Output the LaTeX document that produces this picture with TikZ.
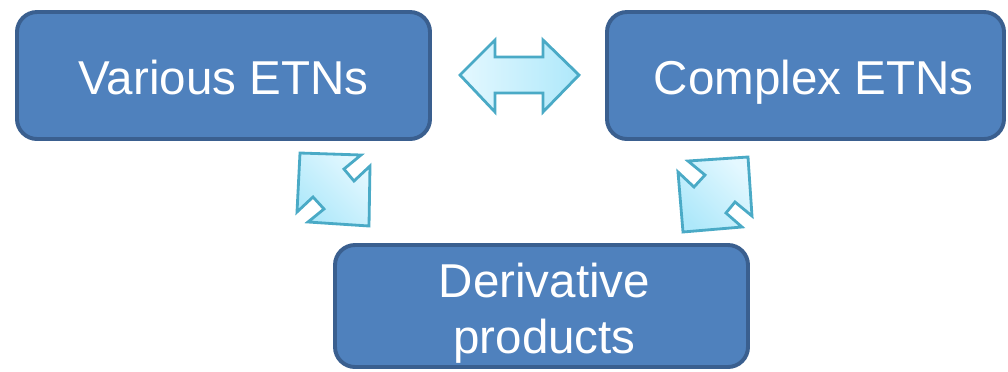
\documentclass[tikz,border=0pt]{standalone}
\usepackage{fontspec}
\setmainfont{Liberation Sans}
\usetikzlibrary{positioning}
\definecolor{boxfill}{HTML}{4F81BD}
\definecolor{boxline}{HTML}{3A5F8F}
\definecolor{arrline}{HTML}{4AAAC6}
\definecolor{arrlight}{HTML}{E4F8FF}
\definecolor{arrdark}{HTML}{AEE8FA}

\begin{document}
\begin{tikzpicture}[x=0.025cm,y=-0.025cm,
        etnbox/.style={draw=boxline,fill=boxfill,line width=2.8pt,rounded corners=0.5cm,
            text=white,font=\fontsize{33.8}{39.8}\selectfont,inner sep=0pt},
        oneline/.style={text height=27.7pt,text depth=0pt},
        linkarrow/.style={draw=arrline,line width=2pt}]
        \useasboundingbox (0,0) rectangle (1008,371);
        % the three boxes
        \node[etnbox,oneline,minimum width=413*0.025cm,minimum height=127*0.025cm] (various) at (223.5,75.5) {Various ETNs};
        \node[etnbox,oneline,minimum width=397*0.025cm,minimum height=127*0.025cm] (complex) at (805.5,75.5) {\hspace*{0.4cm}Complex ETNs};
        \node[etnbox,minimum width=413*0.025cm,minimum height=122*0.025cm,align=center] (deriv) at (541.5,306) {\rule{0pt}{1.03em}\hspace*{0.15cm}Derivative\\\hspace*{0.15cm}products};
        % double arrows between them
        \draw[linkarrow,left color=arrlight,right color=arrdark]
            (460,75) -- (495,40) -- (495,57) -- (543,57) -- (543,40) -- (579,75)
            -- (543,112) -- (543,93) -- (495,93) -- (495,112) -- cycle;
        \draw[linkarrow,left color=arrlight,right color=arrdark,shading angle=-45]
            (300,153) -- (361,155) -- (344,169) -- (354,181) -- (370,166)
            -- (369,226) -- (308,222) -- (324,209) -- (313,197) -- (297,212) -- cycle;
        \draw[linkarrow,left color=arrlight,right color=arrdark,shading angle=-45]
            (688,161) -- (748,157) -- (752,216) -- (735,202) -- (726,213)
            -- (742,227) -- (683,232) -- (678,172) -- (694,187) -- (705,175) -- cycle;
\end{tikzpicture}
\end{document}
